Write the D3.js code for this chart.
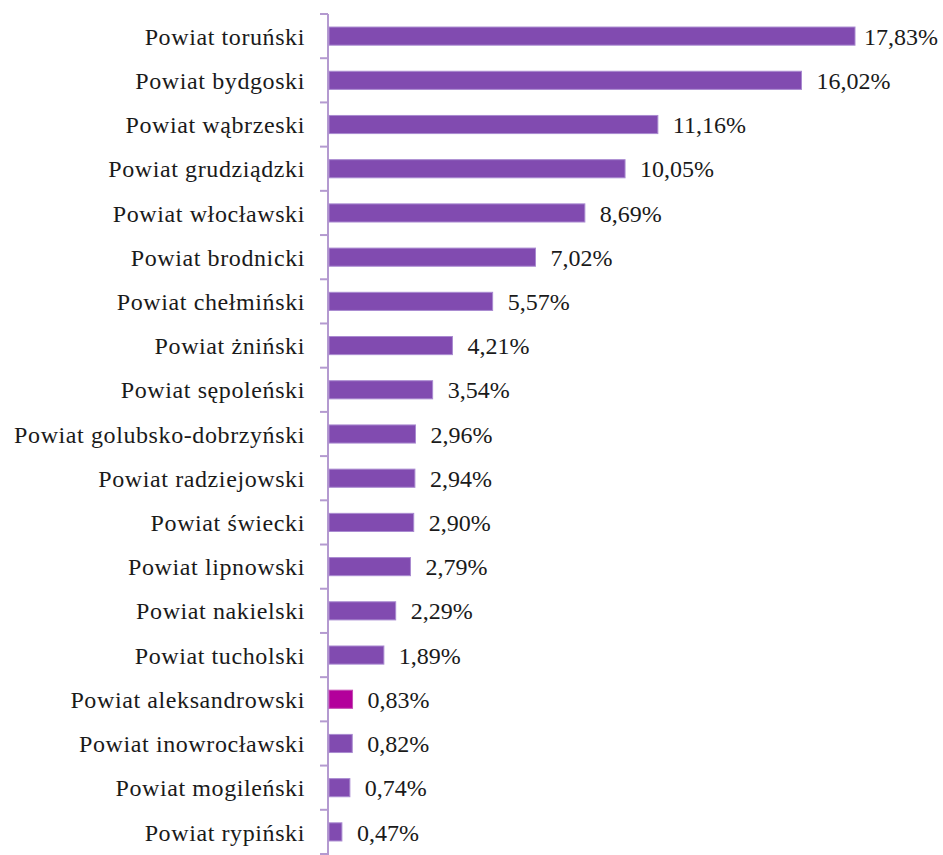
<!DOCTYPE html>
<html><head><meta charset="utf-8">
<script src="https://cdn.jsdelivr.net/npm/d3@7"></script>
<style>body{margin:0;background:#fff}</style>
</head><body><svg id="c" width="943" height="855" font-family="Liberation Serif" style="font-family:'Liberation Serif'"></svg>
<script>
const categories = ["Powiat toruński","Powiat bydgoski","Powiat wąbrzeski","Powiat grudziądzki","Powiat włocławski","Powiat brodnicki","Powiat chełmiński","Powiat żniński","Powiat sępoleński","Powiat golubsko-dobrzyński","Powiat radziejowski","Powiat świecki","Powiat lipnowski","Powiat nakielski","Powiat tucholski","Powiat aleksandrowski","Powiat inowrocławski","Powiat mogileński","Powiat rypiński"];
const values = [17.83,16.02,11.16,10.05,8.69,7.02,5.57,4.21,3.54,2.96,2.94,2.90,2.79,2.29,1.89,0.83,0.82,0.74,0.47];
const highlight = ["Powiat aleksandrowski"];

(function(){
const svg = d3.select("#c");
const x0 = 328, yTop = 14, yBottom = 854;
const x = d3.scaleLinear().domain([0, 17.83]).range([x0, 855]);
const y = d3.scaleBand().domain(categories).range([yTop, yBottom]).paddingInner(0.59).paddingOuter(0.295);

const bounds = d3.range(categories.length + 1).map(i => yTop + i * (yBottom - yTop) / categories.length);
svg.append("g").selectAll("line").data(bounds).join("line")
  .attr("x1", 320).attr("x2", x0).attr("y1", d => d).attr("y2", d => d)
  .attr("stroke", "#b49ad0").attr("stroke-width", 2);
svg.append("line").attr("x1", x0).attr("x2", x0).attr("y1", yTop).attr("y2", 855)
  .attr("stroke", "#b49ad0").attr("stroke-width", 2);

svg.append("g").selectAll("rect").data(categories).join("rect")
  .attr("x", x0 + 1).attr("y", d => y(d))
  .attr("width", (d, i) => x(values[i]) - x0 - 1).attr("height", y.bandwidth())
  .attr("fill", d => highlight.includes(d) ? "#b3009b" : "#814bb0")
  .attr("stroke", d => highlight.includes(d) ? "#c44db3" : "#a98ad0").attr("stroke-width", 1);

const vg = svg.append("g").attr("font-size", 24).attr("fill", "#1a1a1a");
vg.selectAll("text").data(categories).join("text")
  .style("font-family", "'Liberation Serif'")
  .attr("y", d => y(d) + y.bandwidth() / 2).attr("dy", "0.36em")
  .text((d, i) => values[i].toFixed(2).replace(".", ",") + "%")
  .attr("x", function(d, i) {
    const w = this.getComputedTextLength();
    return Math.min(x(values[i]) + 15, 938 - w);
  });

const cg = svg.append("g").attr("font-size", 24).attr("fill", "#1a1a1a");
cg.selectAll("text").data(categories).join("text")
  .style("font-family", "'Liberation Serif'")
  .attr("letter-spacing", 0.6)
  .attr("x", 305).attr("y", d => y(d) + y.bandwidth() / 2)
  .attr("dy", "0.36em").attr("text-anchor", "end")
  .text(d => d);
})();
</script></body></html>
